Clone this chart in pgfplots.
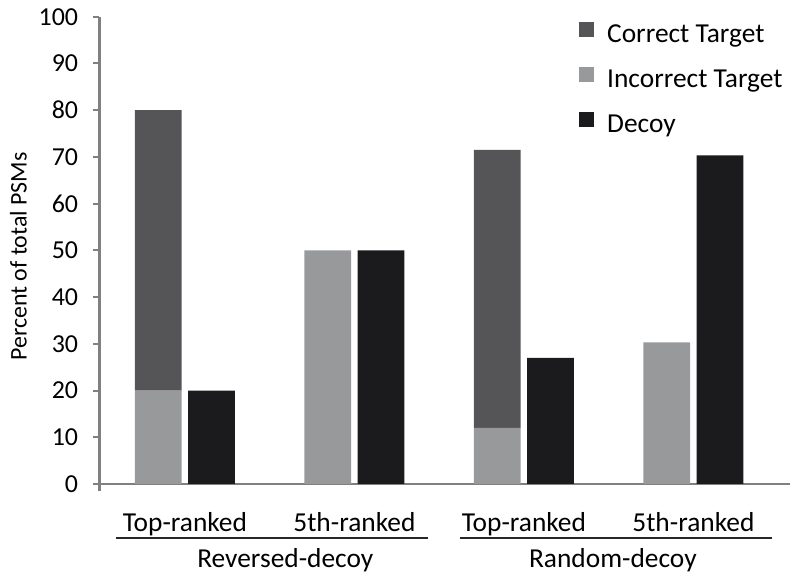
\documentclass[border=0pt]{standalone}
\usepackage{pgfplots}
\pgfplotsset{compat=1.18}
\usepackage{fontspec}
\setmainfont{Carlito}
\definecolor{ctarget}{HTML}{555557}
\definecolor{itarget}{HTML}{98999B}
\definecolor{decoy}{HTML}{1B1A1C}
\definecolor{axgray}{HTML}{808080}
\begin{document}
\begin{tikzpicture}[x=1bp,y=1bp]
\useasboundingbox (0,0) rectangle (800,582);
\begin{axis}[
  at={(99.3bp,98bp)}, anchor=south west,
  scale only axis, width=690.7bp, height=467.3bp,
  xmin=-0.505, xmax=3.570, ymin=0, ymax=100,
  axis lines=left,
  separate axis lines,
  axis line style={-, draw=axgray, line width=2.5bp},
  ybar stacked, bar width=46.7bp, bar shift=0pt,
  ytick={0,10,...,100}, tick align=outside, major tick length=6bp,
  ytick style={draw=axgray, line width=2bp},
  xtick={0,1,2,3}, xticklabels={Top-ranked,5th-ranked,Top-ranked,5th-ranked},
  xtick style={draw=none},
  /pgf/number format/assume math mode=true,
  yticklabel style={font=\fontsize{26}{30}\selectfont, anchor=east, inner sep=0pt, xshift=-15bp},
  xticklabel style={font=\fontsize{27.5}{32}\selectfont, anchor=base, inner sep=0pt, yshift=-42bp},
  ylabel={Percent of total PSMs},
  ylabel style={font=\fontsize{24}{28}\selectfont, at={(axis description cs:-0.1051,0.4868)}, anchor=base, inner sep=0pt},
  legend style={draw=none, fill=none, inner sep=0pt, at={(axis description cs:0.6945,0.990)}, anchor=north west,
    font=\fontsize{27.5}{32}\selectfont, row sep=18bp, column sep=13bp,
    nodes={inner sep=0pt, text height=18bp, text depth=6bp}},
  legend cell align=left,
  legend image code/.code={\fill[#1] (0bp,0bp) rectangle (15bp,15bp);},
  clip=false,
]
\addlegendimage{fill=ctarget, draw=none}
\addlegendentry{Correct Target}
\addlegendimage{fill=itarget, draw=none}
\addlegendentry{Incorrect Target}
\addlegendimage{fill=decoy, draw=none}
\addlegendentry{Decoy}
% x, value  (target bars at c-0.157, decoy bars at c+0.157)
\addplot[fill=itarget, draw=none, forget plot] coordinates {
  (-0.157,20) (0.157,0) (0.843,50) (1.157,0) (1.843,12) (2.157,0) (2.843,30.3) (3.157,0)};
\addplot[fill=ctarget, draw=none, forget plot] coordinates {
  (-0.157,60) (0.157,0) (0.843,0) (1.157,0) (1.843,59.5) (2.157,0) (2.843,0) (3.157,0)};
\addplot[fill=decoy, draw=none, forget plot] coordinates {
  (-0.157,0) (0.157,20) (0.843,0) (1.157,50) (1.843,0) (2.157,27) (2.843,0) (3.157,70.3)};
\draw[axgray, line width=2.5bp] ([xshift=-6bp]axis cs:-0.505,0) -- (axis cs:3.570,0);
\draw[axgray, line width=2.5bp] (axis cs:-0.505,100) -- ([yshift=-7bp]axis cs:-0.505,0);
\draw[black!85, line width=2bp] ([yshift=-53.7bp]axis cs:-0.406,0) -- ([yshift=-53.7bp]axis cs:1.432,0);
\draw[black!85, line width=2bp] ([yshift=-53.7bp]axis cs:1.623,0) -- ([yshift=-53.7bp]axis cs:3.466,0);
\node[anchor=base, inner sep=0pt, font=\fontsize{27.5}{32}\selectfont] at ([yshift=-84bp]axis cs:0.592,0) {Reversed-decoy};
\node[anchor=base, inner sep=0pt, font=\fontsize{27.5}{32}\selectfont] at ([yshift=-84bp]axis cs:2.525,0) {Random-decoy};
\end{axis}
\end{tikzpicture}
\end{document}
